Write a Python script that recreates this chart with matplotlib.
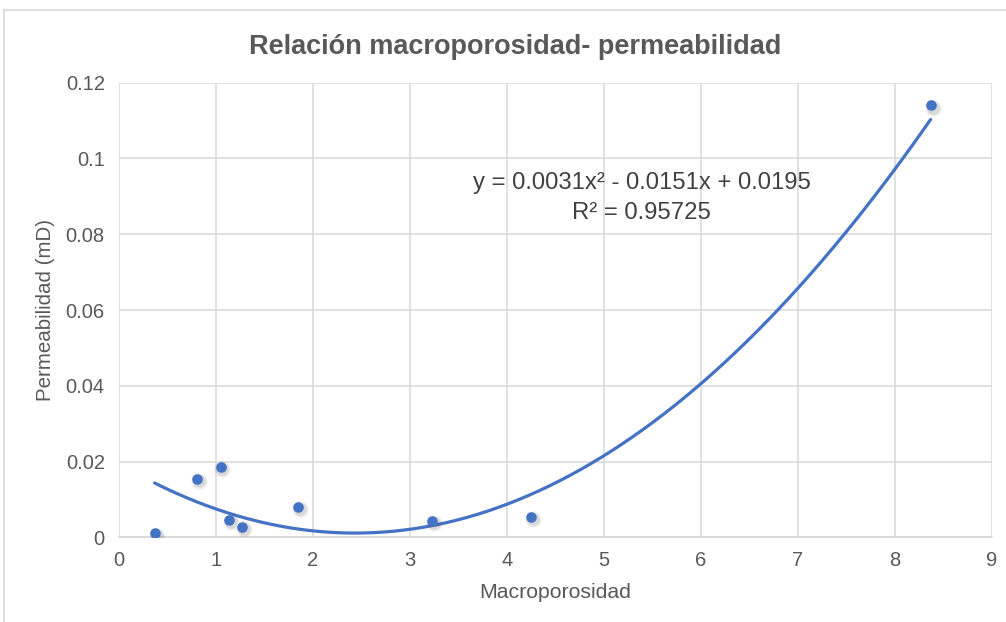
import numpy as np
import matplotlib.pyplot as plt
from matplotlib.lines import Line2D

# Measured samples
macroporosidad = [0.37, 0.81, 1.05, 1.14, 1.27, 1.85, 3.23, 4.25, 8.37]
permeabilidad = [0.001, 0.0155, 0.0186, 0.0046, 0.0028, 0.0080, 0.0044, 0.0054, 0.114]

# Polynomial trendline (order 2) as reported
coef = [0.0031, -0.0151, 0.0195]
r2_label = "R² = 0.95725"
eq_label = "y = 0.0031x² - 0.0151x + 0.0195"

x_ticks = list(range(0, 10))
y_ticks = [0, 0.02, 0.04, 0.06, 0.08, 0.1, 0.12]
y_tick_labels = ["0", "0.02", "0.04", "0.06", "0.08", "0.1", "0.12"]

blue = "#4472C4"
grid_c = "#d9d9d9"
text_c = "#595959"

plt.rcParams['font.family'] = ['Liberation Sans', 'DejaVu Sans']

fig = plt.figure(figsize=(10.06, 6.22), dpi=100)
ax = fig.add_axes([0.118, 0.1362, 0.8678, 0.7308])

# chart frame
fig.add_artist(Line2D([4 / 1006, 1], [1 - 10 / 622, 1 - 10 / 622], color=grid_c, lw=1.2, transform=fig.transFigure))
fig.add_artist(Line2D([4 / 1006, 4 / 1006], [0, 1 - 10 / 622], color=grid_c, lw=1.2, transform=fig.transFigure))

# trendline across the data range
xs = np.linspace(min(macroporosidad), max(macroporosidad), 300)
ys = np.polyval(coef, xs)
ax.plot(xs, ys, color=blue, lw=2.3, zorder=3, solid_capstyle='round')

# soft shadow under markers
for s, a in [(150, 0.05), (110, 0.07), (80, 0.09)]:
    ax.scatter(np.array(macroporosidad) + 0.02, np.array(permeabilidad) - 0.0006,
               s=s, color="#404040", alpha=a, lw=0, zorder=3.5)
ax.scatter(macroporosidad, permeabilidad, s=58, color=blue, lw=0, zorder=4)

ax.set_xlim(0, 9)
ax.set_ylim(0, 0.12)
ax.set_xticks(x_ticks)
ax.set_yticks(y_ticks)
ax.set_yticklabels(y_tick_labels)
ax.grid(True, color=grid_c, lw=1.1)
ax.set_axisbelow(True)
for side in ['top', 'right', 'left']:
    ax.spines[side].set_visible(False)
ax.spines['bottom'].set_color(grid_c)
ax.spines['bottom'].set_linewidth(1.2)
ax.tick_params(length=0, labelsize=14.5, labelcolor=text_c, pad=10)

ax.set_xlabel("Macroporosidad", fontsize=15.3, color=text_c, labelpad=9)
ax.set_ylabel("Permeabilidad (mD)", fontsize=14.8, color=text_c, labelpad=8)

fig.text(0.512, 0.925, "Relación macroporosidad- permeabilidad", ha='center', va='center',
         fontsize=19.5, fontweight='bold', color=text_c)

ax.text(5.39, 0.0935, eq_label, ha='center', va='center', fontsize=17.2, color="#404040")
ax.text(5.39, 0.0855, r2_label, ha='center', va='center', fontsize=17.2, color="#404040")

fig.savefig("out.png", dpi=100)
